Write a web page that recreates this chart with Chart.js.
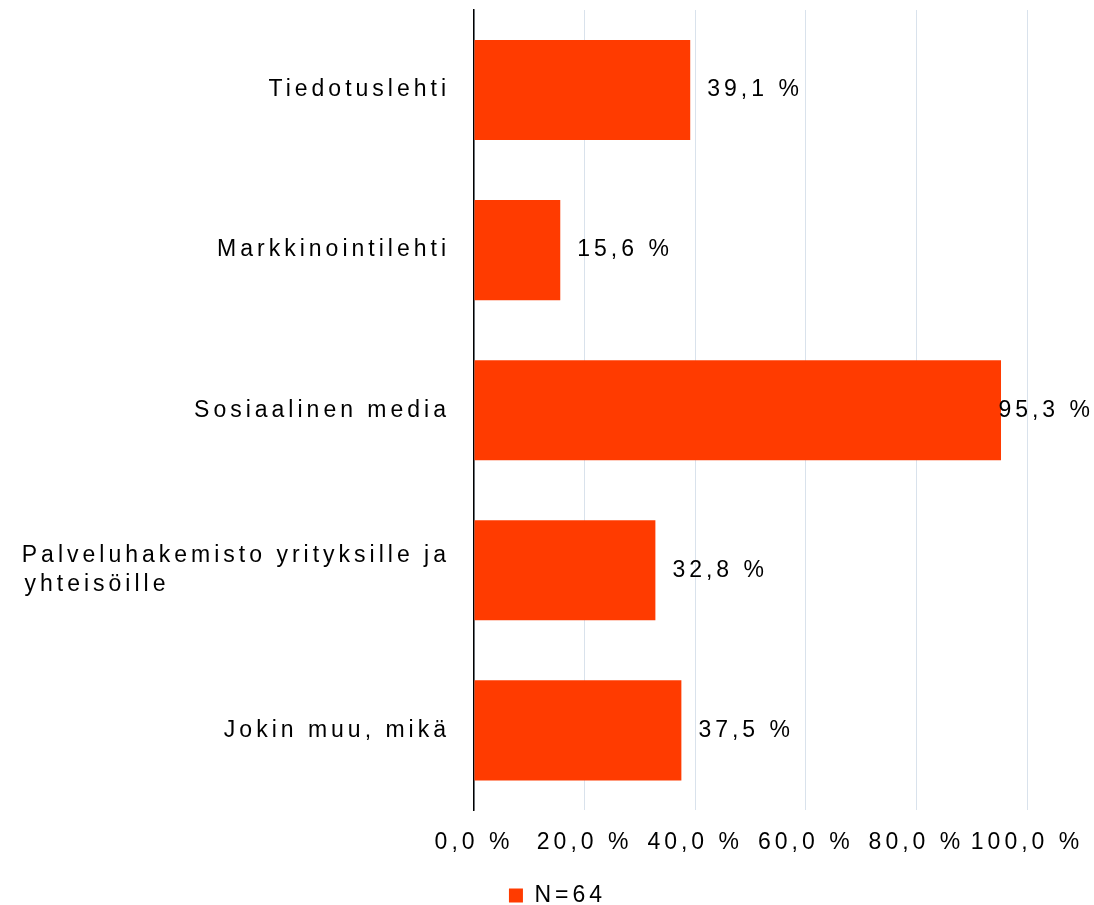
<!DOCTYPE html>
<html>
<head>
<meta charset="utf-8">
<script src="https://cdn.jsdelivr.net/npm/chart.js@4"></script>
<style>
  html, body { margin: 0; padding: 0; background: #fff; }
  canvas { display: block; }
</style>
</head>
<body>
<canvas id="chart" width="1094" height="905"></canvas>
<script>
// kategoriat ja arvot (%)
const categories = [
  'Tiedotuslehti',
  'Markkinointilehti',
  'Sosiaalinen media',
  ['Palveluhakemisto yrityksille ja', 'yhteisöille'],
  'Jokin muu, mikä'
];
const values = [39.1, 15.6, 95.3, 32.8, 37.5];
const seriesName = 'N=64';
const xTicks = [0, 20, 40, 60, 80, 100];

const FONT = '"Liberation Sans", Arial, sans-serif';
const SPACING = '4px';

function pct(v) {
  return v.toFixed(1).replace('.', ',') + ' %';
}

// letter spacing for all canvas text + legend nudged right
const spacingPlugin = {
  id: 'spacing',
  beforeUpdate(chart) { chart.ctx.letterSpacing = SPACING; },
  afterLayout(chart) {
    chart.legend.left += 44;
    chart.legend.right += 44;
  },
  beforeDraw(chart) { chart.ctx.letterSpacing = SPACING; }
};

// value labels next to the bars
const valueLabels = {
  id: 'valueLabels',
  afterDatasetsDraw(chart) {
    const ctx = chart.ctx;
    const meta = chart.getDatasetMeta(0);
    ctx.save();
    ctx.letterSpacing = SPACING;
    ctx.font = '23px ' + FONT;
    ctx.fillStyle = '#000';
    ctx.textAlign = 'left';
    ctx.textBaseline = 'middle';
    meta.data.forEach((bar, i) => {
      const txt = pct(chart.data.datasets[0].data[i]);
      const w = ctx.measureText(txt).width;
      let x = bar.x + 17;
      if (x + w > chart.width) x = chart.width - w;
      ctx.fillText(txt, x, bar.y);
    });
    ctx.restore();
  }
};

new Chart(document.getElementById('chart'), {
  type: 'bar',
  data: {
    labels: categories,
    datasets: [{
      label: seriesName,
      data: values,
      backgroundColor: '#FF3B00',
      categoryPercentage: 1,
      barPercentage: 0.625
    }]
  },
  options: {
    indexAxis: 'y',
    responsive: false,
    animation: false,
    devicePixelRatio: 1,
    layout: { padding: { top: 10, right: 67, bottom: -12, left: 0 } },
    scales: {
      x: {
        min: 0,
        max: 100,
        afterBuildTicks(scale) {
          scale.ticks = xTicks.map(v => ({ value: v }));
        },
        afterFit(scale) {
          scale.paddingLeft = 0;
          scale.paddingRight = 0;
        },
        grid: { color: '#D9E2EC', lineWidth: 1, drawTicks: false },
        border: { display: false },
        ticks: {
          padding: 18,
          color: '#000',
          font: { family: FONT, size: 23 },
          maxRotation: 0,
          autoSkip: false,
          callback: v => pct(v)
        }
      },
      y: {
        afterFit(scale) {
          scale.width = 474;
          scale.paddingTop = 0;
          scale.paddingBottom = 0;
        },
        grid: { display: false, drawTicks: false },
        border: { display: true, color: '#000', width: 1.5 },
        ticks: {
          padding: 24,
          color: '#000',
          font: { family: FONT, size: 23, lineHeight: 1.26 },
          autoSkip: false,
          callback: function (value) {
            const lbl = this.getLabelForValue(value);
            if (!Array.isArray(lbl)) return lbl;
            // left-align the lines of a wrapped label
            const ctx = this.chart.ctx;
            ctx.save();
            ctx.letterSpacing = SPACING;
            ctx.font = '23px ' + FONT;
            const maxW = Math.max(...lbl.map(s => ctx.measureText(s).width));
            const out = lbl.map(s => {
              let t = s;
              while (ctx.measureText(t + ' ').width <= maxW + 2) t += ' ';
              return t;
            });
            ctx.restore();
            return out;
          }
        }
      }
    },
    plugins: {
      legend: {
        position: 'bottom',
        labels: {
          color: '#000',
          font: { family: FONT, size: 23 },
          boxWidth: 14,
          boxHeight: 14,
          padding: 10
        }
      },
      tooltip: { enabled: false }
    }
  },
  plugins: [spacingPlugin, valueLabels]
});
</script>
</body>
</html>
